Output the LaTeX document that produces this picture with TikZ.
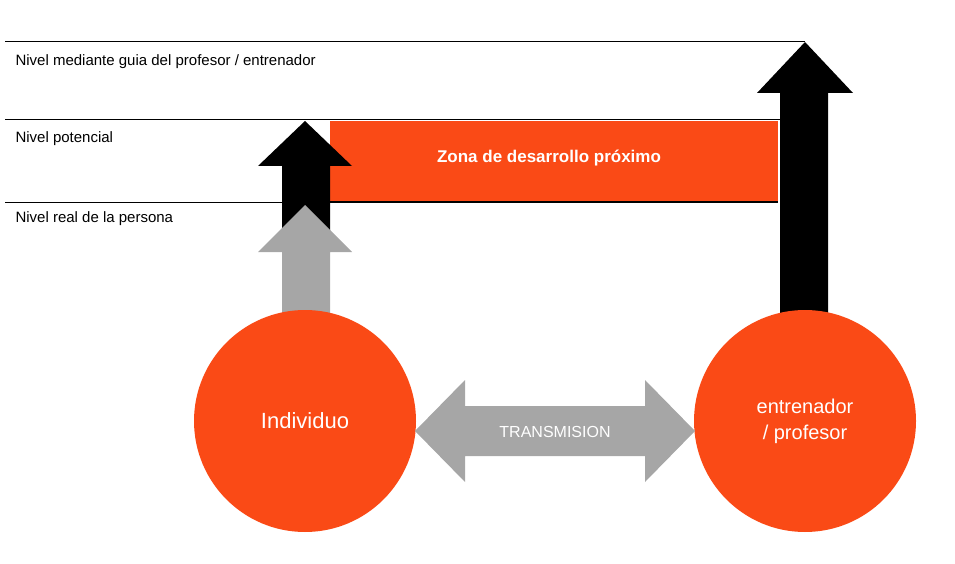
\documentclass[tikz,border=0pt]{standalone}
\usepackage{fontspec}
\setmainfont{Liberation Sans}
\definecolor{org}{HTML}{FA4A16}
\definecolor{gr}{HTML}{A6A6A6}
\begin{document}
\begin{tikzpicture}[x=1pt,y=-1pt,
  lvl/.style={anchor=west,font=\fontsize{15}{18}\selectfont},
  ln/.style={line width=1pt,black}]
\useasboundingbox (0,0) rectangle (955,564);
% level lines
\coordinate (l1a) at (5,42); \coordinate (l1b) at (805,42);
\coordinate (l2a) at (5,120); \coordinate (l2b) at (780,120);
\coordinate (l3a) at (5,202); \coordinate (l3b) at (778,202);
\draw[ln] (l1a)--(l1b); \draw[ln] (l2a)--(l2b); \draw[ln] (l3a)--(l3b);
\node[lvl] (t1) at (12,62) {Nivel mediante guia del profesor / entrenador};
\node[lvl] (t2) at (12,139) {Nivel potencial};
\node[lvl] (t3) at (12,219) {Nivel real de la persona};
% zona rect
\fill[org] (330,121) rectangle (778,201);
\draw[black,line width=1pt] (330,201)--(778,201);
\node[font=\bfseries\fontsize{17}{20}\selectfont,text=white] (zona) at (549,158) {Zona de desarrollo próximo};
% small black arrow
\fill[black] (282,240)--(282,166)--(258,166)--(305,121)--(352,166)--(330,166)--(330,240)--cycle;
% gray arrow
\fill[gr] (282,314)--(282,252)--(258,252)--(305,205)--(352,252)--(330,252)--(330,314)--cycle;
% big black arrow
\fill[black] (780,320)--(780,93)--(757,93)--(805,42)--(853,93)--(828,93)--(828,320)--cycle;
% circles
\node[circle,fill=org,minimum size=222pt,inner sep=0,text=white,font=\fontsize{22}{26}\selectfont] (ind) at (305,421) {Individuo};
\node[circle,fill=org,minimum size=222pt,inner sep=0,text=white,font=\fontsize{20}{26}\selectfont,align=center] (ent) at (805,421) {entrenador\\/ profesor};
% double arrow
\fill[gr] (415,431)--(465,380)--(465,406)--(645,406)--(645,380)--(695,431)--(645,482)--(645,456)--(465,456)--(465,482)--cycle;
\node[text=white,font=\fontsize{16}{19}\selectfont] (tr) at (555,432) {TRANSMISION};
\end{tikzpicture}
\end{document}
